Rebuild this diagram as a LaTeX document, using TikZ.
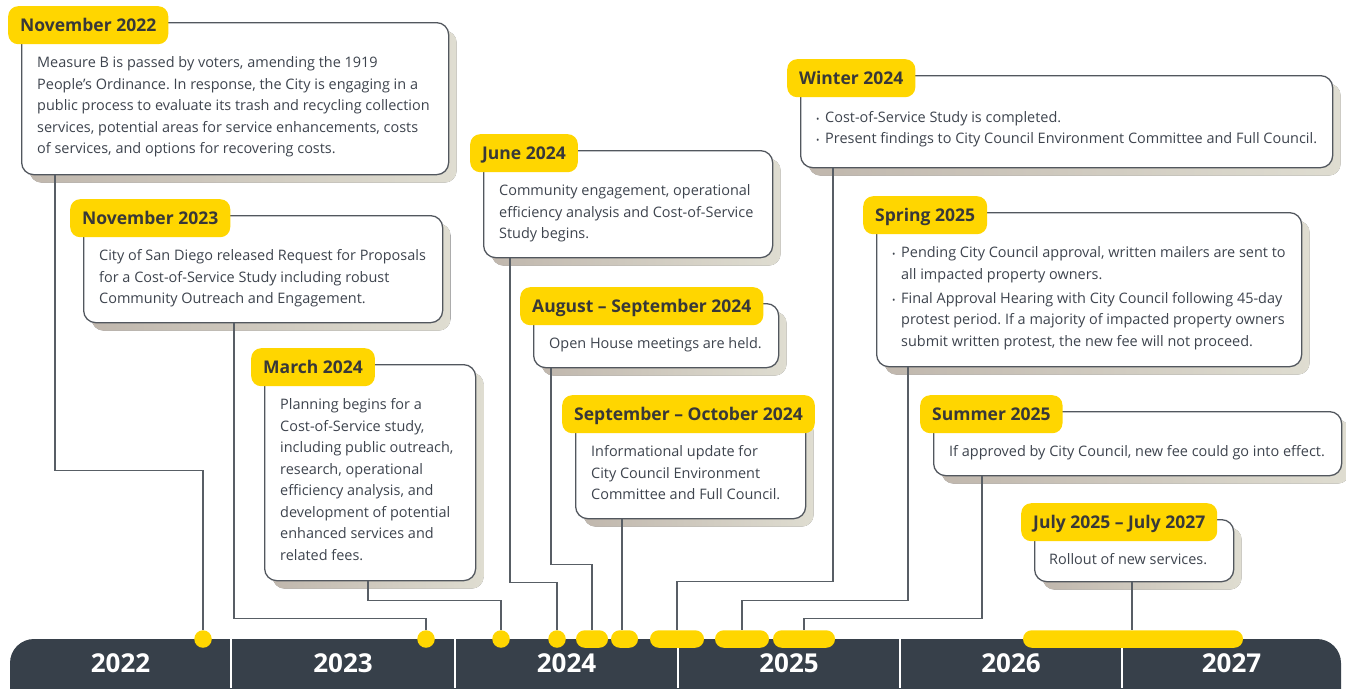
\documentclass[tikz,border=0pt]{standalone}
\usepackage{fontspec}
\setmainfont{Open Sans}
\usetikzlibrary{positioning, shadows, calc}
\definecolor{tagyellow}{RGB}{255,214,0}
\definecolor{barslate}{RGB}{55,64,74}
\definecolor{boxline}{RGB}{82,87,94}
\definecolor{textgray}{RGB}{62,68,78}
\definecolor{tagtext}{RGB}{56,56,56}
\definecolor{linkgray}{RGB}{88,94,101}
\definecolor{shadowl}{RGB}{192,183,173}
\definecolor{shadowr}{RGB}{223,221,209}
\newcommand{\bul}{\makebox[9pt][l]{\fontsize{9}{9}\selectfont\textbullet}}
\frenchspacing

\begin{document}
\begin{tikzpicture}[
        x=1pt, y=-1pt,
        box/.style={draw=boxline, line width=1.3pt, fill=white, rounded corners=12pt, anchor=north west, inner sep=0pt,
            drop shadow={shadow xshift=8pt, shadow yshift=-8pt, left color=shadowl, right color=shadowr, opacity=1}},
        tag/.style={fill=tagyellow, rounded corners=10pt, minimum height=38pt, inner xsep=12pt, inner ysep=0pt,
            text height=12.5pt, text depth=0pt, anchor=north west, text=tagtext, font=\fontsize{17.5}{20}\selectfont\bfseries},
        body/.style={anchor=north west, inner sep=0pt, align=left, text=textgray, font=\fontsize{14.45}{21.5}\selectfont},
        link/.style={draw=linkgray, line width=1.1pt},
        dot/.style={circle, fill=tagyellow, minimum size=17.5pt, inner sep=0pt},
        pill/.style={fill=tagyellow, rounded corners=8.75pt, minimum height=17.5pt, inner sep=0pt},
        year/.style={text=white, font=\fontsize{26}{26}\selectfont\bfseries}
    ]
        \useasboundingbox (0,0) rectangle (1346,688);

        % event boxes
        \node[box, minimum width=427pt, minimum height=152pt] (nov22) at (21,22) {};
        \node[tag] (nov22tag) at ([shift={(-13,-16)}]nov22.north west) {November 2022};
        \node[body] (nov22txt) at ([shift={(16,34.5)}]nov22.north west) {
            Measure B is passed by voters, amending the 1919\\
            People’s Ordinance. In response, the City is engaging in a\\
            public process to evaluate its trash and recycling collection\\
            services, potential areas for service enhancements, costs\\
            of services, and options for recovering costs.
        };

        \node[box, minimum width=359pt, minimum height=107pt] (nov23) at (83,215) {};
        \node[tag] (nov23tag) at ([shift={(-13,-16)}]nov23.north west) {November 2023};
        \node[body] (nov23txt) at ([shift={(16,34.5)}]nov23.north west) {
            City of San Diego released Request for Proposals\\
            for a Cost-of-Service Study including robust\\
            Community Outreach and Engagement.
        };

        \node[box, minimum width=211pt, minimum height=216pt] (mar24) at (264,364) {};
        \node[tag] (mar24tag) at ([shift={(-13,-16)}]mar24.north west) {March 2024};
        \node[body] (mar24txt) at ([shift={(16,34.5)}]mar24.north west) {
            Planning begins for a\\
            Cost-of-Service study,\\
            including public outreach,\\
            research, operational\\
            efficiency analysis, and\\
            development of potential\\
            enhanced services and\\
            related fees.
        };

        \node[box, minimum width=289pt, minimum height=107pt] (jun24) at (483,150) {};
        \node[tag] (jun24tag) at ([shift={(-13,-16)}]jun24.north west) {June 2024};
        \node[body] (jun24txt) at ([shift={(16,34.5)}]jun24.north west) {
            Community engagement, operational\\
            efficiency analysis and Cost-of-Service\\
            Study begins.
        };

        \node[box, minimum width=245pt, minimum height=64pt] (aug24) at (533,303) {};
        \node[tag] (aug24tag) at ([shift={(-13,-16)}]aug24.north west) {August – September 2024};
        \node[body] (aug24txt) at ([shift={(16,34.5)}]aug24.north west) {Open House meetings are held.};

        \node[box, minimum width=230pt, minimum height=107pt] (sep24) at (575,411) {};
        \node[tag] (sep24tag) at ([shift={(-13,-16)}]sep24.north west) {September – October 2024};
        \node[body] (sep24txt) at ([shift={(16,34.5)}]sep24.north west) {
            Informational update for\\
            City Council Environment\\
            Committee and Full Council.
        };

        \node[box, minimum width=532pt, minimum height=92pt] (win24) at (800,75) {};
        \node[tag] (win24tag) at ([shift={(-13,-16)}]win24.north west) {Winter 2024};
        \node[body] (win24txt) at ([shift={(16,36)}]win24.north west) {
            \bul Cost-of-Service Study is completed.\\
            \bul Present findings to City Council Environment Committee and Full Council.
        };

        \node[box, minimum width=425pt, minimum height=154pt] (spr25) at (876,212) {};
        \node[tag] (spr25tag) at ([shift={(-13,-16)}]spr25.north west) {Spring 2025};
        \node[body] (spr25txt) at ([shift={(16,34.5)}]spr25.north west) {
            \bul Pending City Council approval, written mailers are sent to\\
            \hspace*{9pt}all impacted property owners.\\[2.5pt]
            \bul Final Approval Hearing with City Council following 45-day\\
            \hspace*{9pt}protest period. If a majority of impacted property owners\\
            \hspace*{9pt}submit written protest, the new fee will not proceed.
        };

        \node[box, minimum width=408pt, minimum height=64pt] (sum25) at (933,411) {};
        \node[tag] (sum25tag) at ([shift={(-13,-16)}]sum25.north west) {Summer 2025};
        \node[body] (sum25txt) at ([shift={(16,34)}]sum25.north west) {If approved by City Council, new fee could go into effect.};

        \node[box, minimum width=199pt, minimum height=62pt] (jul25) at (1034,519) {};
        \node[tag] (jul25tag) at ([shift={(-13,-16)}]jul25.north west) {July 2025 – July 2027};
        \node[body] (jul25txt) at ([shift={(15,34.5)}]jul25.north west) {Rollout of new services.};

        % timeline bar
        \begin{scope}
            \clip (0,0) rectangle (1346,688);
            \fill[barslate, rounded corners=24pt] (10,639) rectangle (1341,720);
        \end{scope}
        \foreach \x in {231,455,678,900,1122}
            \draw[white, line width=1.5pt] (\x,639) -- (\x,688);
        \foreach \yr/\x in {2022/120.5, 2023/343, 2024/566.5, 2025/789, 2026/1011, 2027/1231.5}
            \node[year] (y\yr) at (\x,663.5) {\yr};

        % markers
        \node[dot] (m1) at (203,639) {};
        \node[dot] (m2) at (426,639) {};
        \node[dot] (m3) at (501,639) {};
        \node[dot] (m4) at (557,639) {};
        \node[pill, minimum width=32pt] (m5) at (592,639) {};
        \node[pill, minimum width=27pt] (m6) at (624.5,639) {};
        \node[pill, minimum width=54pt] (m7) at (677,639) {};
        \node[pill, minimum width=54pt] (m8) at (742,639) {};
        \node[pill, minimum width=62pt] (m9) at (804,639) {};
        \node[pill, minimum width=220pt] (m10) at (1133,639) {};

        % connectors
        \draw[link] ([xshift=34]nov22.south west) -- ++(0,295) -| (m1.north);
        \draw[link] ([xshift=151]nov23.south west) -- ++(0,295) -| (m2.north);
        \draw[link] ([xshift=104]mar24.south west) -- ++(0,19) -| (m3.north);
        \draw[link] ([xshift=27]jun24.south west) -- ++(0,324) -| (m4.north);
        \draw[link] ([xshift=18]aug24.south west) -- ++(0,196) -| (m5.north);
        \draw[link] ([xshift=47]sep24.south west) -- ([xshift=47]sep24.south west |- m6.north);
        \draw[link] ([xshift=33]win24.south west) -- ++(0,413) -| (m7.north);
        \draw[link] ([xshift=32]spr25.south west) -- ++(0,233) -| (m8.north);
        \draw[link] ([xshift=49]sum25.south west) -- ++(0,142) -| (m9.north);
        \draw[link] ([xshift=98]jul25.south west) -- ([xshift=98]jul25.south west |- m10.north);
\end{tikzpicture}
\end{document}
